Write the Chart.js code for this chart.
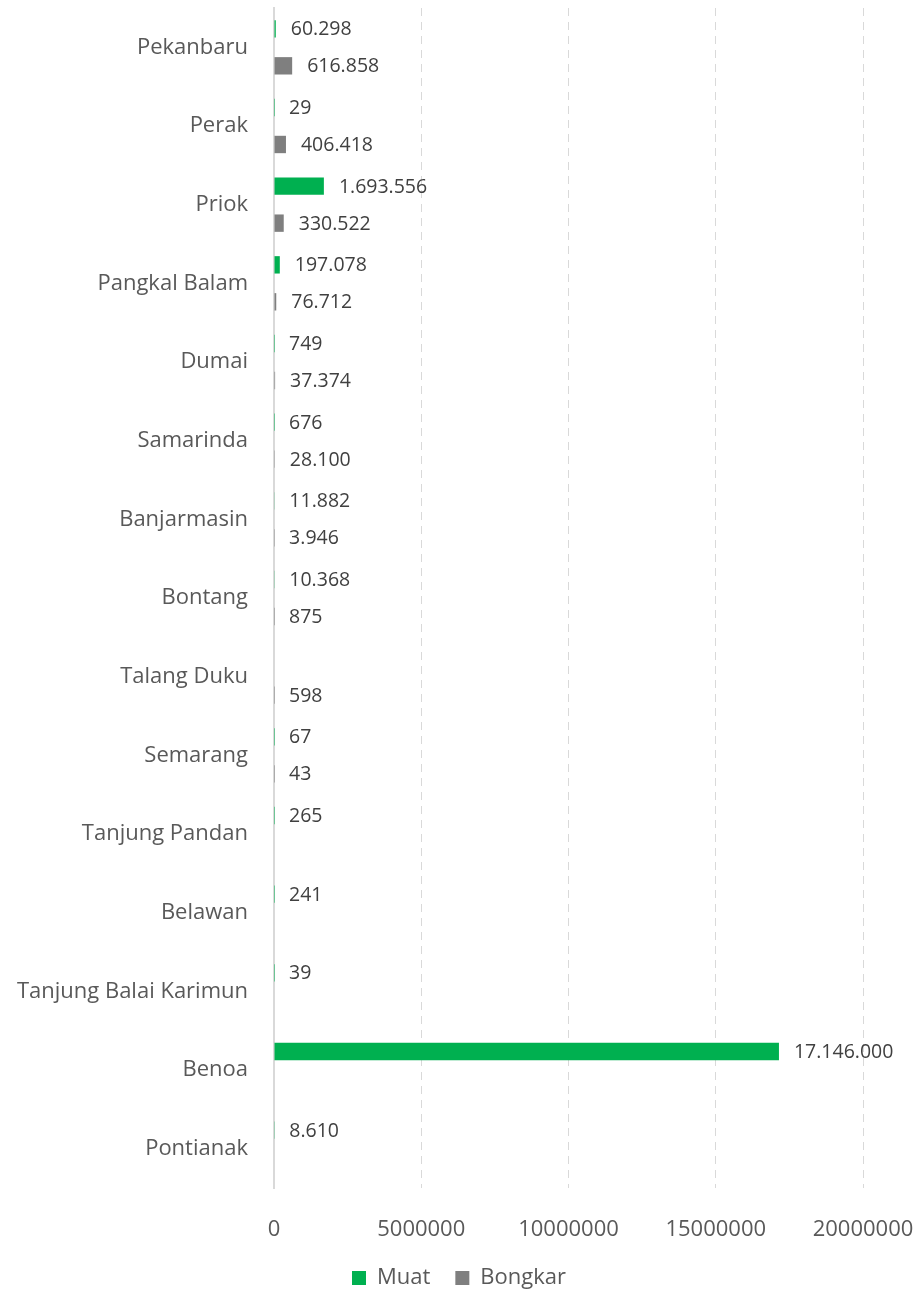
<!DOCTYPE html>
<html>
<head>
<meta charset="utf-8">
<script src="https://cdn.jsdelivr.net/npm/chart.js@4"></script>
<style>
  html, body { margin: 0; padding: 0; background: #fff; }
  #wrap { width: 918px; height: 1305px; }
</style>
</head>
<body>
<div id="wrap"><canvas id="portChart"></canvas></div>
<script>
const ports = [
  "Pekanbaru", "Perak", "Priok", "Pangkal Balam", "Dumai", "Samarinda",
  "Banjarmasin", "Bontang", "Talang Duku", "Semarang", "Tanjung Pandan",
  "Belawan", "Tanjung Balai Karimun", "Benoa", "Pontianak"
];
const muat = [
  60298, 29, 1693556, 197078, 749, 676,
  11882, 10368, null, 67, 265,
  241, 39, 17146000, 8610
];
const bongkar = [
  616858, 406418, 330522, 76712, 37374, 28100,
  3946, 875, 598, 43, null,
  null, null, null, null
];
const xTicks = [0, 5000000, 10000000, 15000000, 20000000];

const fontFamily = "'Open Sans', 'Noto Sans', sans-serif";

// thousands with dots, e.g. 1.693.556
function formatDots(v) {
  return String(v).replace(/\B(?=(\d{3})+(?!\d))/g, ".");
}

const barValueLabels = {
  id: "barValueLabels",
  afterDatasetsDraw(chart) {
    const ctx = chart.ctx;
    ctx.save();
    ctx.font = "19.5px " + fontFamily;
    ctx.fillStyle = "#404040";
    ctx.textAlign = "left";
    ctx.textBaseline = "middle";
    chart.data.datasets.forEach((ds, di) => {
      const meta = chart.getDatasetMeta(di);
      meta.data.forEach((bar, i) => {
        const v = ds.data[i];
        if (v === null || v === undefined) return;
        ctx.fillText(formatDots(v), bar.x + 15, bar.y + 1);
      });
    });
    ctx.restore();
  }
};

new Chart(document.getElementById("portChart"), {
  type: "bar",
  data: {
    labels: ports,
    datasets: [
      {
        label: "Muat",
        data: muat,
        backgroundColor: "#00b050",
        categoryPercentage: 0.94,
        barPercentage: 0.47,
      },
      {
        label: "Bongkar",
        data: bongkar,
        backgroundColor: "#7f7f7f",
        categoryPercentage: 0.94,
        barPercentage: 0.47,
      },
    ],
  },
  options: {
    indexAxis: "y",
    responsive: true,
    maintainAspectRatio: false,
    animation: false,
    layout: {
      padding: { top: 8, right: 0, bottom: 6, left: 0 },
    },
    scales: {
      x: {
        min: 0,
        max: 20000000,
        afterBuildTicks(scale) {
          scale.ticks = xTicks.map((v) => ({ value: v }));
        },
        afterFit(scale) {
          scale.height = 54;
          scale.paddingLeft = 0;
          scale.paddingRight = 55;
        },
        ticks: {
          color: "#595959",
          padding: 29,
          maxRotation: 0,
          font: { family: fontFamily, size: 22 },
          callback: (v) => String(v),
        },
        grid: {
          color: (c) => (c.tick && c.tick.value === 0 ? "rgba(0,0,0,0)" : "#d9d9d9"),
          lineWidth: 1,
          drawTicks: false,
        },
        border: { display: false, dash: [8, 6] },
      },
      y: {
        afterFit(scale) {
          scale.width = 274;
          scale.paddingTop = 0;
          scale.paddingBottom = 0;
        },
        ticks: {
          color: "#595959",
          padding: 26,
          font: { family: fontFamily, size: 22 },
        },
        grid: { display: false, drawTicks: false },
        border: { display: true, color: "#d9d9d9", width: 2 },
      },
    },
    plugins: {
      legend: {
        position: "bottom",
        labels: {
          color: "#595959",
          boxWidth: 14,
          boxHeight: 14,
          padding: 25,
          font: { family: fontFamily, size: 22 },
        },
      },
      tooltip: { enabled: false },
    },
  },
  plugins: [barValueLabels],
});
</script>
</body>
</html>
